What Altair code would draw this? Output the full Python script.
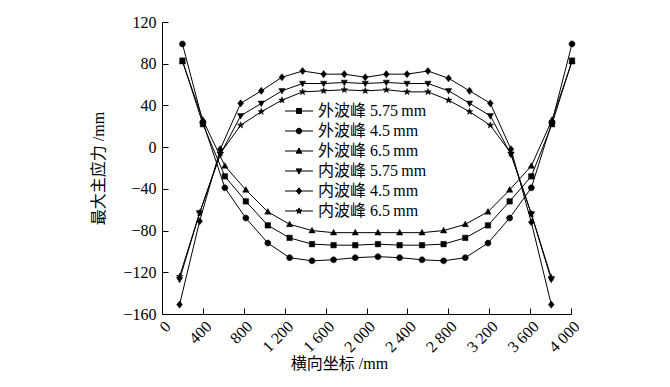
import math
import altair as alt
import pandas as pd

# ---------------- data ----------------
outer_x = [200, 400, 615, 820, 1035, 1248, 1467, 1678, 1890, 2112, 2324, 2543, 2754, 2966, 3188, 3400, 3612, 3814, 4010]
outer_575 = [83, 22, -28, -52, -75, -87, -93, -94, -94, -93, -94, -94, -93, -87, -75, -52, -28, 22, 83]
outer_45 = [99, 24, -39, -68, -92, -106, -109, -108, -106, -105, -106, -108, -109, -106, -92, -68, -39, 24, 99]
outer_65 = [82, 26, -18, -41, -62, -74, -80, -82, -82, -82, -82, -82, -80, -74, -62, -41, -18, 26, 82]

inner_x = [172, 368, 570, 769, 971, 1173, 1375, 1581, 1783, 1988, 2194, 2396, 2601, 2803, 3008, 3211, 3413, 3612, 3807]
inner_575 = [-127, -63, -7, 30, 42, 54, 61, 61, 62, 61, 62, 61, 61, 54, 42, 30, -7, -64, -127]
inner_45 = [-151, -71, -2, 42, 54, 67, 73, 70, 70, 67, 70, 70, 73, 66, 54, 42, -2, -72, -151]
inner_65 = [-124, -63, -6, 21, 34, 45, 53, 54, 55, 54, 55, 53, 53, 45, 34, 21, -6, -64, -125]

series_names = [
    "外波峰 5.75\u2009mm",
    "外波峰 4.5\u2009mm",
    "外波峰 6.5\u2009mm",
    "内波峰 5.75\u2009mm",
    "内波峰 4.5\u2009mm",
    "内波峰 6.5\u2009mm",
]
series_x = [outer_x, outer_x, outer_x, inner_x, inner_x, inner_x]
series_y = [outer_575, outer_45, outer_65, inner_575, inner_45, inner_65]

x_ticks = [0, 400, 800, 1200, 1600, 2000, 2400, 2800, 3200, 3600, 4000]
y_ticks = [-160, -120, -80, -40, 0, 40, 80, 120]

rows = []
for name, xs, ys in zip(series_names, series_x, series_y):
    for i, (xv, yv) in enumerate(zip(xs, ys)):
        rows.append({"series": name, "x": xv, "y": yv, "i": i})
df = pd.DataFrame(rows)

# ---------------- marker shapes ----------------
def star_path(ro=1.25, ri=0.5):
    pts = []
    for k in range(10):
        r = ro if k % 2 == 0 else ri
        a = math.radians(-90 + 36 * k)
        pts.append(f"{r*math.cos(a):.3f},{r*math.sin(a):.3f}")
    return "M" + "L".join(pts) + "Z"

STAR = star_path()
SQUARE = "M-1,-1H1V1H-1Z"
CIRCLE = "M-1.1,0A1.1,1.1 0 1,0 1.1,0A1.1,1.1 0 1,0 -1.1,0Z"
TRI_UP = "M0,-1.2L1.15,0.85H-1.15Z"
TRI_DOWN = "M0,1.2L1.15,-0.85H-1.15Z"
DIAMOND = "M0,-1.3L1.05,0L0,1.3L-1.05,0Z"
marker_paths = [SQUARE, CIRCLE, TRI_UP, TRI_DOWN, DIAMOND, STAR]
LINE = "M-5.6,0L5.6,0"
legend_paths = [LINE + p for p in marker_paths]

FONT = "Liberation Serif, Noto Sans CJK SC"

xscale = alt.Scale(domain=[0, 4000], nice=False, zero=False)
yscale = alt.Scale(domain=[-160, 120], nice=False, zero=False)

x_label_expr = "datum.value >= 1000 ? replace(format(datum.value, ','), ',', ' ') : format(datum.value, 'd')"

x_main_axis = alt.Axis(
    orient="bottom", values=x_ticks, ticks=False, grid=False, domainColor="black", domainWidth=1,
    labelAngle=315, labelFontSize=16, labelFont=FONT, labelColor="black", labelPadding=4,
    labelExpr=x_label_expr, labelOverlap=False,
    title="横向坐标 /mm", titleFont=FONT, titleFontSize=16, titleFontWeight="normal", titleColor="black",
    titleX=177, titleY=49, titleBaseline="middle", titleAlign="center",
)
y_main_axis = alt.Axis(
    orient="left", values=y_ticks, ticks=False, grid=False, domainColor="black", domainWidth=1,
    labelFontSize=16, labelFont=FONT, labelColor="black", labelPadding=6, labelOverlap=False,
    title="最大主应力 /mm", titleFont=FONT, titleFontSize=16, titleFontWeight="normal", titleColor="black",
    titleAngle=270, titleX=-64, titleY=146, titleBaseline="middle", titleAlign="center",
)
x_tick_axis = alt.Axis(
    orient="bottom", values=x_ticks, ticks=True, tickSize=6, tickColor="black", tickWidth=1,
    domain=False, labels=False, grid=False, title=None, offset=-6,
)
y_tick_axis = alt.Axis(
    orient="left", values=y_ticks, ticks=True, tickSize=6, tickColor="black", tickWidth=1,
    domain=False, labels=False, grid=False, title=None, offset=-6,
)

base = alt.Chart(df)

lines = base.mark_line(color="black", strokeWidth=1).encode(
    x=alt.X("x:Q", scale=xscale, axis=x_main_axis),
    y=alt.Y("y:Q", scale=yscale, axis=y_main_axis),
    detail="series:N",
    order="i:Q",
)

points = base.mark_point(filled=True, fill="black", stroke="black", strokeWidth=0.5, opacity=1, size=30).encode(
    x=alt.X("x:Q", scale=xscale, axis=x_tick_axis),
    y=alt.Y("y:Q", scale=yscale, axis=y_tick_axis),
    shape=alt.Shape("series:N", scale=alt.Scale(domain=series_names, range=marker_paths), legend=None),
)

legend_layer = base.transform_filter("false").mark_point(
    filled=False, fill="black", stroke="black", strokeWidth=1, opacity=1, size=25
).encode(
    shape=alt.Shape(
        "series:N",
        scale=alt.Scale(domain=series_names, range=legend_paths),
        legend=alt.Legend(
            title=None, orient="none", legendX=129, legendY=81, direction="vertical",
            labelFont=FONT, labelFontSize=16, labelColor="black", labelOffset=11,
            rowPadding=4, symbolSize=25, symbolStrokeWidth=1, labelLimit=300, padding=0,
        ),
    )
)

chart = (
    alt.layer(lines, points, legend_layer)
    .resolve_axis(x="independent", y="independent")
    .resolve_scale(shape="independent")
    .properties(
        width=409, height=292,
        autosize=alt.AutoSizeParams(type="none"),
        padding={"left": 154, "top": 14, "right": 60, "bottom": 65},
        background="white",
    )
    .configure_view(stroke=None)
)

chart.save("out.html", embed_options={"renderer": "svg", "actions": False})
